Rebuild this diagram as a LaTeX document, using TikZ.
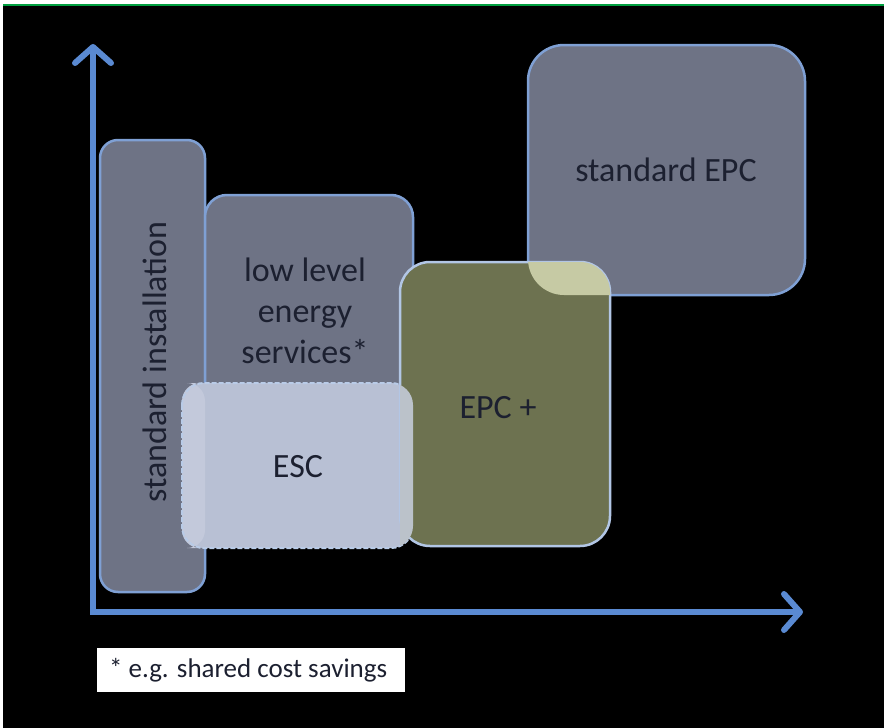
\documentclass[tikz,border=0pt]{standalone}
\usepackage{fontspec}
\setmainfont{Carlito}
\usetikzlibrary{arrows.meta}
\definecolor{boxgrey}{HTML}{6E7385}
\definecolor{boxedge}{HTML}{7FA0D4}
\definecolor{axisblue}{HTML}{5A8AD2}
\definecolor{olivefill}{HTML}{6D7250}
\definecolor{escfill}{HTML}{B8C0D4}
\definecolor{overlapfill}{HTML}{C6CAA4}
\definecolor{txt}{HTML}{1C2030}
\definecolor{topgreen}{HTML}{00A040}
\tikzset{
  box/.style={fill=boxgrey, draw=boxedge, line width=2.5pt},
  lbl/.style={text=txt, font=\fontsize{34}{41}\selectfont, align=center, inner sep=0pt},
  axis/.style={draw=axisblue, line width=6pt, -{Straight Barb[length=16pt 0,width=36pt 0,round]}}
}
\begin{document}
\begin{tikzpicture}[x=1pt,y=-1pt]
\useasboundingbox (0,0) rectangle (884,728);
\fill[white] (0,0) rectangle (884,728);
\fill[black] (3,6) rectangle (884,728);
\draw[topgreen, line width=2pt] (3,4.5) -- (884,4.5);
% boxes
\path[box, rounded corners=18pt] (100,140) rectangle (205,592);
\path[box, rounded corners=22pt] (205,195) rectangle (413,420);
\path[box, fill=escfill, draw=none, rounded corners=22pt] (182,383) rectangle (413,548);
\fill[escfill!85!white, rounded corners=18pt] (182,383) rectangle (205,548);
\draw[boxedge!55!white, line width=2pt, dash pattern=on 5pt off 2pt, rounded corners=22pt] (182,383) rectangle (413,548);
\path[box, rounded corners=36pt] (528,45) rectangle (805,295);
\path[box, fill=olivefill, draw=boxedge!60!white, rounded corners=30pt] (400,262) rectangle (610,546);
\begin{scope}
  \clip[rounded corners=36pt] (528,45) rectangle (805,295);
  \fill[overlapfill, rounded corners=30pt] (400,262) rectangle (610,546);
\end{scope}
\begin{scope}
  \clip (400,383) rectangle (413,548);
  \fill[escfill!80!overlapfill, rounded corners=22pt] (182,383) rectangle (413,548);
\end{scope}
% labels
\node[lbl, rotate=90] (si) at (155,362) {standard installation};
\node[lbl] (ll) at (305,311) {low level\\energy\\services*};
\node[lbl] (esc) at (298,467) {ESC};
\node[lbl] (epcp) at (498,408) {EPC +};
\node[lbl] (sepc) at (666,170) {standard EPC};
% axes
\coordinate (o) at (93,612);
\coordinate (ytip) at (93,44);
\coordinate (xtip) at (803,612);
\draw[axis] ([yshift=3pt]o) -- (ytip);
\draw[axis] ([xshift=-3pt]o) -- (xtip);
% footnote
\node[fill=white, minimum width=308pt, minimum height=44pt, inner sep=0pt] (fn) at (251,670) {};
\node[anchor=west, inner sep=0pt, font=\fontsize{27}{32}\selectfont, text=txt] (fnt) at (109,670) {* e.g. shared cost savings};
\end{tikzpicture}
\end{document}
